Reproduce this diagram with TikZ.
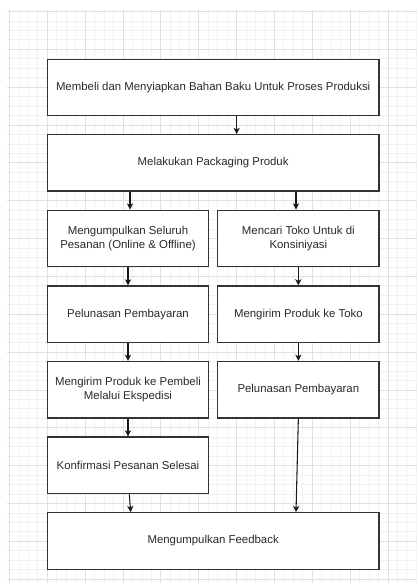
\documentclass[tikz,border=0pt]{standalone}
\usepackage{fontspec}
\setmainfont{Liberation Sans}
\usetikzlibrary{arrows.meta}
\definecolor{gminor}{HTML}{F2F2F2}
\definecolor{gmajor}{HTML}{E0E0E0}
\definecolor{boxline}{HTML}{333333}
\definecolor{txt}{HTML}{2A2A2A}
\begin{document}
\begin{tikzpicture}[x=0.75pt,y=-0.75pt,
  box/.style={draw=boxline,line width=1pt,fill=white,inner sep=0pt,align=center,
    text=txt,font=\fontsize{8.55pt}{10.7pt}\selectfont},
  wide/.style={box,minimum width=331.7*0.75pt,minimum height=56.4*0.75pt},
  half/.style={box,minimum width=161.4*0.75pt,minimum height=56.5*0.75pt},
  arr/.style={draw=black!90,line width=0.8pt,-{Stealth[length=4.6pt,width=4.6pt,inset=1.2pt]}},
  minorl/.style={draw=gminor,line width=0.6pt},
  majorl/.style={draw=gmajor,line width=0.6pt}]
\useasboundingbox (0,0) rectangle (417,584);
\fill[white] (0,0) rectangle (417,584);
\begin{scope}
\clip (7,10) rectangle (417,583);
\foreach \i in {-4,...,39} \draw[minorl] ({47.3+9.4625*\i},10) -- ++(0,573);
\foreach \j in {-4,...,56} \draw[minorl] (7,{49.3+9.4625*\j}) -- ++(410,0);
\foreach \i in {-1,...,9} \draw[majorl] ({47.3+37.85*\i},10) -- ++(0,573);
\foreach \j in {-1,...,14} \draw[majorl] (7,{49.3+37.85*\j}) -- ++(410,0);
\end{scope}

\node[wide] (b1) at (213.15,87.5) {Membeli dan Menyiapkan Bahan Baku Untuk Proses Produksi};
\node[wide] (b2) at (213.15,162.85) {Melakukan Packaging Produk};
\node[half] (l1) at (128,238.5) {Mengumpulkan Seluruh\\Pesanan (Online \& Offline)};
\node[half] (r1) at (298.35,238.5) {Mencari Toko Untuk di\\Konsiniyasi};
\node[half] (l2) at (128,314.35) {Pelunasan Pembayaran};
\node[half] (r2) at (298.35,314.35) {Mengirim Produk ke Toko};
\node[half] (l3) at (128,389.7) {Mengirim Produk ke Pembeli\\Melalui Ekspedisi};
\node[half] (r3) at (298.35,389.7) {Pelunasan Pembayaran};
\node[half] (l4) at (128,465.35) {Konfirmasi Pesanan Selesai};
\node[wide] (fb) at (213.15,541) {Mengumpulkan Feedback};

\coordinate (xa) at (236.7,0);
\coordinate (xl) at (130,0);
\coordinate (xr) at (296,0);
\coordinate (xl1) at (129.3,0);
\coordinate (xl2) at (130.7,0);

\draw[arr] (b1.south -| xa) -- (b2.north -| xa);
\draw[arr] (b2.south -| xl) -- (l1.north -| xl);
\draw[arr] (b2.south -| xr) -- (r1.north -| xr);
\draw[arr] (l1.south) -- (l2.north);
\draw[arr] (l2.south) -- (l3.north);
\draw[arr] (l3.south) -- (l4.north);
\draw[arr] (r1.south) -- (r2.north);
\draw[arr] (r2.south) -- (r3.north);
\draw[arr] (l4.south -| xl1) -- (fb.north -| xl2);
\draw[arr] (r3.south) -- (fb.north -| xr);
\end{tikzpicture}
\end{document}
